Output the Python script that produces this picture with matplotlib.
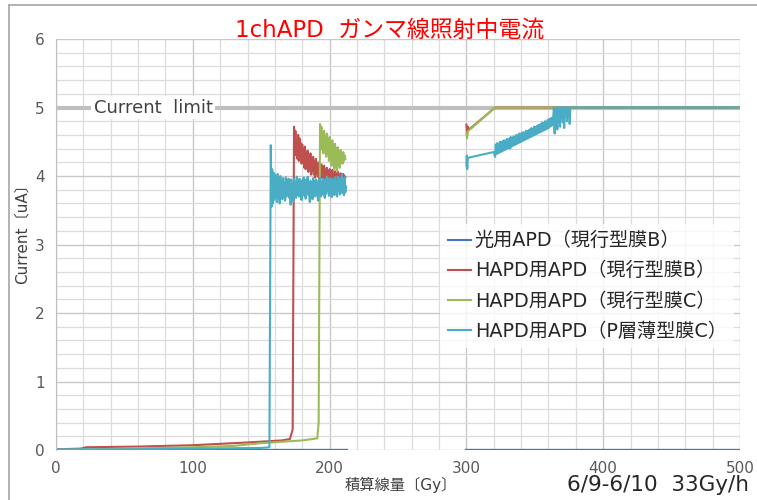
import numpy as np
import matplotlib
matplotlib.use("Agg")
import matplotlib.pyplot as plt
from matplotlib.lines import Line2D

plt.rcParams['font.family'] = ['DejaVu Sans', 'Noto Sans CJK JP']

series_names = ['光用APD（現行型膜B）', 'HAPD用APD（現行型膜B）',
                'HAPD用APD（現行型膜C）', 'HAPD用APD（P層薄型膜C）']
colors = ['#4472C4', '#C0504D', '#9BBB59', '#4BACC6']

# 光用APD: stays at zero in both runs
blue_x = [0, 212, np.nan, 300, 500]
blue_y = [0.0, 0.0, np.nan, 0.0, 0.0]

# HAPD B: slow rise, breakdown at 174 Gy, second run from 300 Gy
red_pre_x = [0, 18, 22, 60, 100, 140, 165, 171, 173]
red_pre_y = [0.01, 0.02, 0.04, 0.05, 0.07, 0.11, 0.14, 0.16, 0.30]
red_hi_x = list(np.arange(174, 211.6, 0.5))
red_hi_y = [4.72, 4.30, 4.66, 4.35, 4.52, 4.25, 4.60, 4.22, 4.55, 4.28,
            4.48, 4.18, 4.46, 4.24, 4.40, 4.12, 4.43, 4.10, 4.34, 4.15,
            4.37, 4.06, 4.30, 4.11, 4.33, 4.02, 4.26, 4.08, 4.28, 4.02,
            4.22, 3.98, 4.25, 4.04, 4.18, 3.99, 4.20, 3.96, 4.14, 4.03,
            4.17, 3.97, 4.12, 3.94, 4.15, 4.00, 4.09, 3.93, 4.12, 3.98,
            4.06, 3.92, 4.10, 3.97, 4.05, 3.93, 4.09, 3.92, 4.03, 3.97,
            4.07, 3.92, 4.02, 3.95, 4.06, 3.93, 4.01, 3.96, 4.04, 3.93,
            4.02, 3.95, 4.03, 3.96, 4.00, 3.98]
red_run2_x = [300, 300.5, 301, 302, 321, 500]
red_run2_y = [4.75, 4.60, 4.72, 4.68, 5.0, 5.0]

# HAPD C: breakdown at 193 Gy
green_pre_x = [0, 50, 100, 130, 150, 180, 191, 192]
green_pre_y = [0.0, 0.02, 0.04, 0.06, 0.10, 0.14, 0.17, 0.40]
green_hi_x = list(np.arange(193, 211.6, 0.5))
green_hi_y = [4.76, 4.38, 4.72, 4.45, 4.64, 4.33, 4.66, 4.40, 4.58, 4.28,
              4.62, 4.32, 4.55, 4.22, 4.57, 4.26, 4.50, 4.15, 4.52, 4.20,
              4.45, 4.10, 4.47, 4.14, 4.40, 4.08, 4.42, 4.16, 4.36, 4.12,
              4.38, 4.20, 4.33, 4.18, 4.35, 4.22, 4.30, 4.25]
green_run2_x = [300, 300.5, 301, 321, 500]
green_run2_y = [4.62, 4.55, 4.65, 5.0, 5.0]

# HAPD P-layer thin C: breakdown at 157 Gy
cyan_pre_x = [0, 50, 100, 150, 156]
cyan_pre_y = [0.01, 0.01, 0.02, 0.03, 0.04]
cyan_hi_x = list(np.arange(157, 212.1, 0.5))
cyan_hi_y = [4.45, 3.55, 4.10, 3.60, 4.05, 3.65, 4.02, 3.70, 3.98, 3.62,
             4.03, 3.68, 3.95, 3.60, 4.00, 3.75, 3.92, 3.66, 3.97, 3.72,
             3.90, 3.64, 3.98, 3.70, 3.93, 3.76, 3.96, 3.68, 3.90, 3.58,
             3.95, 3.72, 3.88, 3.62, 3.96, 3.74, 3.91, 3.68, 3.99, 3.73,
             3.92, 3.70, 3.96, 3.77, 3.89, 3.65, 3.94, 3.75, 3.98, 3.71,
             3.92, 3.67, 3.95, 3.77, 3.99, 3.72, 3.90, 3.62, 3.93, 3.74,
             3.88, 3.66, 3.97, 3.76, 3.92, 3.70, 3.95, 3.73, 3.90, 3.64,
             3.94, 3.75, 3.98, 3.70, 3.91, 3.77, 3.96, 3.72, 3.89, 3.68,
             3.95, 3.74, 3.99, 3.78, 3.92, 3.71, 3.97, 3.75, 3.93, 3.69,
             3.96, 3.76, 3.90, 3.72, 3.98, 3.74, 3.92, 3.70, 3.99, 3.78,
             3.94, 3.73, 3.97, 3.76, 4.02, 3.75, 3.95, 3.72, 3.98, 3.76,
             3.85]
cyan_start2_x = [300, 300.3, 300.6, 301, 302, 320]
cyan_start2_y = [4.15, 4.30, 4.10, 4.25, 4.27, 4.35]
cyan_ramp_x = list(np.arange(321, 363.1, 0.5))
cyan_ramp_y = [4.28, 4.46, 4.32, 4.48, 4.33, 4.47, 4.34, 4.50, 4.35, 4.49,
               4.36, 4.51, 4.37, 4.52, 4.38, 4.50, 4.39, 4.54, 4.40, 4.53,
               4.41, 4.55, 4.40, 4.57, 4.43, 4.55, 4.44, 4.58, 4.45, 4.57,
               4.46, 4.60, 4.47, 4.59, 4.48, 4.62, 4.49, 4.61, 4.50, 4.63,
               4.51, 4.64, 4.52, 4.63, 4.53, 4.66, 4.54, 4.65, 4.55, 4.67,
               4.56, 4.68, 4.57, 4.70, 4.58, 4.69, 4.59, 4.72, 4.60, 4.71,
               4.61, 4.73, 4.62, 4.74, 4.63, 4.75, 4.64, 4.76, 4.65, 4.78,
               4.66, 4.77, 4.67, 4.80, 4.68, 4.79, 4.69, 4.82, 4.70, 4.83,
               4.72, 4.84, 4.73, 4.85, 4.74]
cyan_top_x = [364, 364.5, 365, 365.5, 366, 366.5, 367, 367.5, 368, 368.5, 369, 369.5,
              370, 370.5, 371, 371.5, 372, 372.5, 373, 373.5, 374, 374.5, 375, 375.5,
              376, 378, 500]
cyan_top_y = [5.0, 4.62, 5.0, 4.75, 5.0, 4.68, 5.0, 4.80, 5.0, 4.72, 5.0, 4.85,
              5.0, 4.78, 5.0, 4.70, 5.0, 4.88, 5.0, 4.80, 5.0, 4.90, 5.0, 4.76,
              5.0, 5.0, 5.0]

current_limit = 5.0


def join(*parts):
    xs, ys = [], []
    for i, (px, py) in enumerate(parts):
        if i and px[0] >= 300 and xs[-1] < 300:
            xs.append(np.nan)
            ys.append(np.nan)
        xs += list(px)
        ys += list(py)
    return xs, ys


red_x, red_y = join((red_pre_x, red_pre_y), (red_hi_x, red_hi_y), (red_run2_x, red_run2_y))
green_x, green_y = join((green_pre_x, green_pre_y), (green_hi_x, green_hi_y),
                        (green_run2_x, green_run2_y))
cyan_x, cyan_y = join((cyan_pre_x, cyan_pre_y), (cyan_hi_x, cyan_hi_y),
                      (cyan_start2_x, cyan_start2_y), (cyan_ramp_x, cyan_ramp_y),
                      (cyan_top_x, cyan_top_y))

fig = plt.figure(figsize=(7.57, 5.0), dpi=100)
ax = fig.add_axes([0.074, 0.1, 0.9035, 0.822])

ax.set_xlim(0, 500)
ax.set_ylim(0, 6)
ax.set_xticks(np.arange(0, 501, 100))
ax.set_yticks(np.arange(0, 7, 1))
ax.set_xticks(np.arange(0, 501, 20), minor=True)
ax.set_yticks(np.arange(0, 6.01, 0.2), minor=True)
ax.grid(which='major', color='#C8C8C8', linewidth=1.0)
ax.grid(which='minor', color='#DCDCDC', linewidth=0.9)
ax.set_axisbelow(True)
ax.tick_params(which='both', length=0, colors='#595959', labelsize=11, pad=8)
for s in ['top', 'right', 'bottom']:
    ax.spines[s].set_visible(False)
ax.spines['left'].set_color('#BFBFBF')

# current limit line
ax.axhline(current_limit, color='#BFBFBF', linewidth=3, zorder=1.5)
ax.text(71, current_limit, 'Current  limit', ha='center', va='center', fontsize=13,
        color='#404040', bbox=dict(facecolor='white', edgecolor='none', pad=2), zorder=1.6)

ax.plot(blue_x, blue_y, color=colors[0], linewidth=2.4, label=series_names[0])
ax.plot(red_x, red_y, color=colors[1], linewidth=1.5, label=series_names[1])
ax.plot(green_x, green_y, color=colors[2], linewidth=1.5, label=series_names[2])
ax.plot(cyan_x, cyan_y, color=colors[3], linewidth=1.5, label=series_names[3])

leg = ax.legend(loc='upper left', bbox_to_anchor=(0.569, 0.572), bbox_transform=fig.transFigure,
                fontsize=13.8, frameon=True, facecolor='white', edgecolor='none', fancybox=False,
                handlelength=1.2, handletextpad=0.2, labelspacing=0.58, borderpad=0.4)
for t in leg.get_texts():
    t.set_color('#262626')
for h in leg.get_lines():
    h.set_linewidth(1.5)

fig.text(0.514, 0.94, '1chAPD  ガンマ線照射中電流', ha='center', va='center',
         fontsize=16.5, color='#FF0000')
fig.text(0.53, 0.03, '積算線量〔Gy〕', ha='center', va='center', fontsize=11, color='#404040')
fig.text(0.99, 0.03, '6/9-6/10  33Gy/h', ha='right', va='center', fontsize=15.5, color='#262626')
fig.text(0.029, 0.54, 'Current〔uA〕', ha='center', va='center', rotation=90,
         fontsize=11, color='#404040')

# chart frame edges
fig.add_artist(Line2D([0.012, 0.012], [0, 0.99], color='#A6A6A6', linewidth=1.2))
fig.add_artist(Line2D([0.012, 1.0], [0.99, 0.99], color='#A6A6A6', linewidth=1.2))

fig.savefig('out.png', dpi=100)
